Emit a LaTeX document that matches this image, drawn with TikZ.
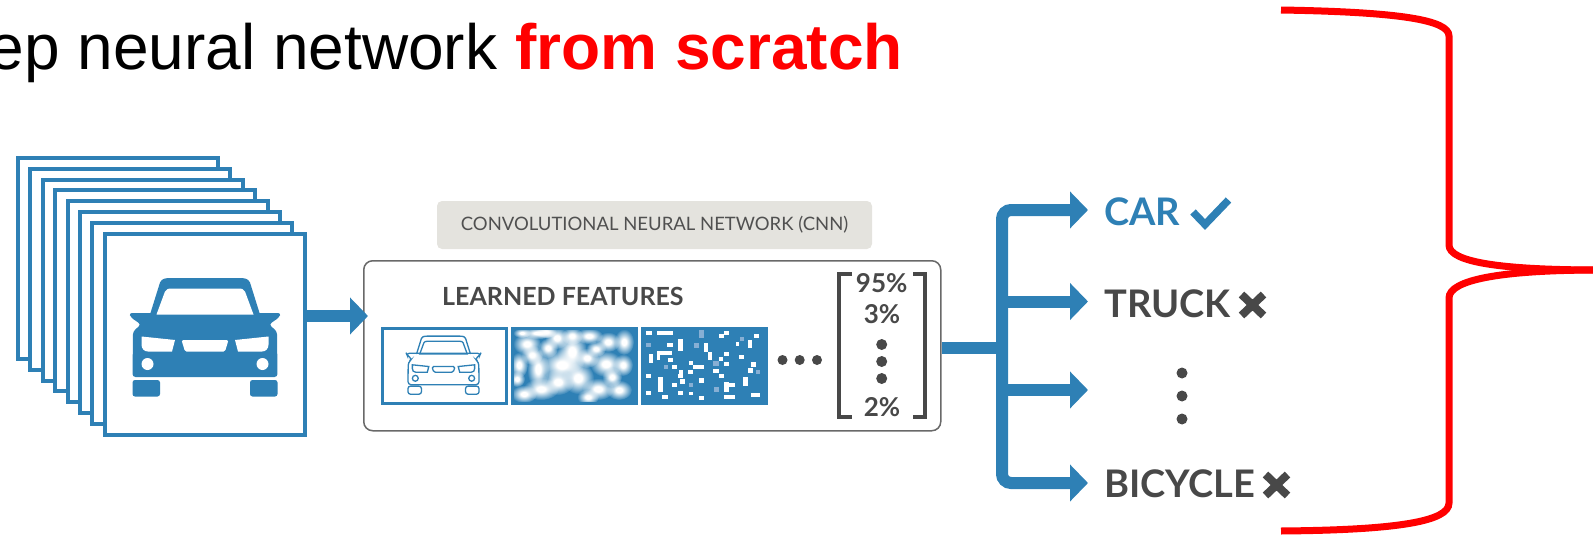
\documentclass[tikz,border=0pt]{standalone}
\usepackage{fontspec}
\setmainfont{Liberation Sans}
\newfontfamily\lato{Lato}
\usetikzlibrary{arrows.meta,fadings}
\definecolor{cnnblue}{RGB}{46,128,181}
\definecolor{cnngray}{RGB}{72,72,72}
\definecolor{taggray}{RGB}{80,80,80}
\definecolor{tagfill}{RGB}{228,227,222}
\definecolor{boxline}{RGB}{105,105,105}
\definecolor{lightsq}{RGB}{135,175,212}
% soft-edged white spots for the blurred feature map
\pgfdeclareradialshading{blobshade}{\pgfpointorigin}{color(0bp)=(transparent!0); color(6bp)=(transparent!0); color(25bp)=(transparent!100); color(50bp)=(transparent!100)}
\pgfdeclarefading{softblob}{\pgfuseshading{blobshade}}
\tikzset{
  pics/carfront/.style={code={
    % roof
    \path[carshape] (-55,-23) -- (-45,-55) .. controls (-43,-59) and (-40,-59.5) .. (-34,-59.5) -- (34,-59.5) .. controls (40,-59.5) and (43,-59) .. (45,-55) -- (55,-23);
    % body with mirrors
    \path[carshape, rounded corners=3pt] (-76,-24.5) -- (76,-24.5) -- (74,-20) -- (64,-13) -- (72,-6) -- (72.5,39.5) -- (-72.5,39.5) -- (-72,-6) -- (-64,-13) -- (-74,-20) -- cycle;
    % windshield
    \path[carhole] (-48.5,-23) -- (-40,-46) .. controls (-38.5,-48.5) and (-37,-49) .. (-33,-49) -- (33,-49) .. controls (37,-49) and (38.5,-48.5) .. (40,-46) -- (48.5,-23) -- cycle;
    % headlights
    \path[carhole] (-63.5,-1) -- (-30,2.5) -- (-33,14) -- (-57,14) .. controls (-61,14) and (-63.5,11) .. (-63.5,7) -- cycle;
    \path[carhole] (63.5,-1) -- (30,2.5) -- (33,14) -- (57,14) .. controls (61,14) and (63.5,11) .. (63.5,7) -- cycle;
    % grille
    \path[carhole, rounded corners=1.5pt] (-23.5,2.5) -- (23.5,2.5) -- (20,14) -- (-20,14) -- cycle;
    % fog lights
    \path[carhole] (-57.5,26.5) circle[radius=6pt];
    \path[carhole] (57.5,26.5) circle[radius=6pt];
    % wheels
    \path[carshape, rounded corners=2.5pt] (-72.5,42.5) -- (-72.5,59) -- (-45,59) -- (-45,42.5) -- cycle;
    \path[carshape, rounded corners=2.5pt] (72.5,42.5) -- (72.5,59) -- (45,59) -- (45,42.5) -- cycle;
  }},
  carshape/.style={},
  carhole/.style={},
}
\begin{document}
\begin{tikzpicture}[x=1pt,y=-1pt,
  frame/.style={draw=cnnblue, line width=4pt, fill=white, minimum width=200pt,
    minimum height=201pt, inner sep=0pt, anchor=north west},
  featbox/.style={draw=cnnblue, line width=3pt, minimum width=124pt,
    minimum height=75pt, inner sep=0pt, anchor=north west},
  flow/.style={draw=cnnblue, line width=12pt},
  head/.style={-{Triangle[length=18pt 0 0,width=36pt 0 0]}},
  classlbl/.style={anchor=base west, inner sep=0pt, text=cnngray,
    font=\lato\bfseries\fontsize{38}{38}\selectfont},
  pct/.style={anchor=base, inner sep=0pt, text=cnngray,
    font=\lato\bfseries\fontsize{26}{26}\selectfont},
  dot/.style={fill=cnngray},
  cross/.style={draw=cnngray, line width=8pt},
]
\useasboundingbox (0,0) rectangle (1593,538);
\clip (0,0) rectangle (1593,538);

% heading
\node[anchor=base east, inner sep=0pt, font=\fontsize{64}{64}\selectfont] (title)
  at (903,69) {ep neural network \textcolor{red}{\bfseries from scratch}};

% stack of input images
\foreach \i in {0,...,7}
  \node[frame] (f\i) at ({16+12.4*\i},{156+10.8*\i}) {};
\pic[carshape/.style={fill=cnnblue}, carhole/.style={fill=white}] at (205,337.5) {carfront};

% network box and its caption
\node[fill=tagfill, rounded corners=5pt, minimum width=435pt, minimum height=48pt,
  inner sep=0pt, text=taggray, font=\lato\fontsize{18.5}{18.5}\selectfont] (tag)
  at (654.5,225) {CONVOLUTIONAL NEURAL NETWORK (CNN)};
\node[draw=boxline, line width=1.5pt, rounded corners=9pt, minimum width=577pt,
  minimum height=170pt, inner sep=0pt, anchor=north west] (cnn) at (363,260) {};
\node[anchor=base west, inner sep=0pt, text=cnngray,
  font=\lato\bfseries\fontsize{25}{25}\selectfont] (learned) at (442,305) {LEARNED FEATURES};

% input arrow
\coordinate (inrow) at (0,316);
\draw[flow, head] (f7.east |- inrow) -- ([xshift=5pt]cnn.west |- inrow);

% feature maps
\node[featbox, fill=white] (fm1) at (381,327) {};
\pic[carshape/.style={draw=cnnblue, line width=1.3pt}, carhole/.style={draw=cnnblue, line width=1.3pt},
  scale=0.49] at (443.5,365.3) {carfront};

\node[featbox, fill=cnnblue] (fm2) at (511,327) {};
\begin{scope}
  \clip ([shift={(1.5pt,-1.5pt)}]fm2.north west) rectangle ([shift={(-1.5pt,1.5pt)}]fm2.south east);
  \foreach \x/\y/\rx/\ry in {
    522/333/9/5, 538/333/18/6, 527/344/14/11, 557/338/12/11, 572/336/11/9, 589/336/14/8,
    608/342/12/10, 624/342/10/13, 572/352/15/20, 562/365/22/16, 538/369/11/20, 519/365/9/13,
    587/358/12/10, 606/364/16/13, 623/365/10/11, 558/382/16/13, 578/378/16/16, 541/389/18/11,
    524/394/13/9, 598/389/16/11, 619/390/13/10, 588/397/11/8, 532/355/11/10, 548/348/10/10,
    596/349/10/8, 612/377/10/10, 517/379/8/8, 546/332/11/6}
    \fill[white, path fading=softblob] (\x,\y) ellipse[x radius={\rx*1pt}, y radius={\ry*1pt}];
\end{scope}
\node[featbox] at (fm2.north west) {};

\node[featbox, fill=cnnblue] (fm3) at (641,327) {};
\foreach \a/\b/\c/\d in {
  646/331/652/335, 657/331/672.7/335.3, 719.3/334/724.3/338.3, 724.3/331/729.3/335,
  754.3/334/758.7/338.3, 667/343.3/672.7/347.3, 678.3/339.3/682.7/351, 704.3/343.3/707.7/351.7,
  736/341.7/739.3/346, 748.3/340/752/348.3, 656.7/351/672/355, 656.7/355/660/360,
  648.7/354.3/652.7/362.7, 668.3/358.3/672.7/361.7, 707.7/351.7/712/360, 718.7/356.7/723.3/360.7,
  724.3/351.7/729.3/356, 739.3/355/744.3/359.3, 689.3/360.7/693.3/365, 693.3/365/704.3/369.3,
  724.3/361.7/729.3/365.7, 751/361.7/756/366.7, 672/365/677/369.3, 679.3/370/683.3/374.3,
  688.3/370/692.7/374, 713.3/369.3/718.7/373.3, 748.3/368.3/752.7/372.7, 646/374/651/378.3,
  677.7/374/682.7/378.3, 719.3/374/724.3/378.3, 657.7/377.3/662.7/391.7, 680.3/379.3/685.3/384,
  699.3/378.3/704.3/382.7, 672/382.7/677/386.7, 724.3/381.7/729.3/391.7, 729.3/383.3/735.3/387.3,
  742.7/376.7/747.7/386, 646/390.7/651/395, 677.7/390.7/682.7/395, 688.7/391.7/693.3/395,
  662/395/667.7/399, 698.7/396/703.7/400, 724.3/395/735.3/399, 751/392.7/760/396.7}
  \fill[white] (\a,\b) rectangle (\c,\d);
\foreach \a/\b/\c/\d in {
  699.3/330/704.3/338.3, 646/343.3/651.3/347.3, 693.7/343.3/698.7/348, 740/336.7/744.3/341,
  713.3/360.7/718.7/365.7, 664.3/365/667.7/369.3, 756/370/760/374.3, 688.7/382.7/693.3/386.7,
  713.7/386.7/718.7/391.7}
  \fill[lightsq] (\a,\b) rectangle (\c,\d);

% ellipsis between feature maps and scores
\foreach \x in {782.5,799.7,817}
  \fill[dot] (\x,360) circle[radius=5pt];

% score vector
\draw[draw=cnngray, line width=4pt] (852,274) -- (838.7,274) -- (838.7,417) -- (852,417);
\draw[draw=cnngray, line width=4pt] (913,274) -- (925.3,274) -- (925.3,417) -- (913,417);
\node[pct] (p95) at (881.7,292) {95\%};
\node[pct] (p3) at (882,323.5) {3\%};
\foreach \y in {344.5,361.5,378.5}
  \fill[dot] (881.7,\y) circle[radius=5.5pt];
\node[pct] (p2) at (882,416.5) {2\%};

% output branches
\coordinate (tipcar) at (1088,210);
\coordinate (tiptruck) at (1088,301.5);
\coordinate (tipmore) at (1088,390);
\coordinate (tipbike) at (1088,483);
\coordinate (trunkbot) at (1002,483);
\coordinate (join) at (1002,348);
\draw[flow] (cnn.east |- join) -- (join);
\draw[flow, rounded corners=9pt, {Triangle[length=18pt 0 0,width=36pt 0 0]}-{Triangle[length=18pt 0 0,width=36pt 0 0]}]
  (tipcar) -| (trunkbot) -- (tipbike);
\draw[flow, head] (trunkbot |- tiptruck) -- (tiptruck);
\draw[flow, head] (trunkbot |- tipmore) -- (tipmore);

% class labels
\node[classlbl, text=cnnblue] (car) at (1104,225) {CAR};
\node[classlbl] (truck) at (1104,317) {TRUCK};
\node[classlbl] (bike) at (1104,497.5) {BICYCLE};
\draw[draw=cnnblue, line width=7.5pt] (1193,212) -- (1205,224.5) -- (1228.5,200);
\draw[cross] (1241.5,294.5) -- (1263.5,315.5) (1263.5,294.5) -- (1241.5,315.5);
\draw[cross] (1265.5,474.5) -- (1287.5,495.5) (1287.5,474.5) -- (1265.5,495.5);
\foreach \y in {373,396,419}
  \fill[dot] (1182,\y) circle[radius=5.5pt];

% brace
\draw[red, line width=7pt] (1281,10) .. controls (1400,12) and (1449,20) .. (1449,36)
  -- (1449,245) .. controls (1449,262) and (1500,270) .. (1600,270);
\draw[red, line width=7pt] (1600,270) .. controls (1500,270) and (1449,280) .. (1449,298)
  -- (1449,503) .. controls (1449,521) and (1400,530) .. (1281,531);
\end{tikzpicture}
\end{document}
